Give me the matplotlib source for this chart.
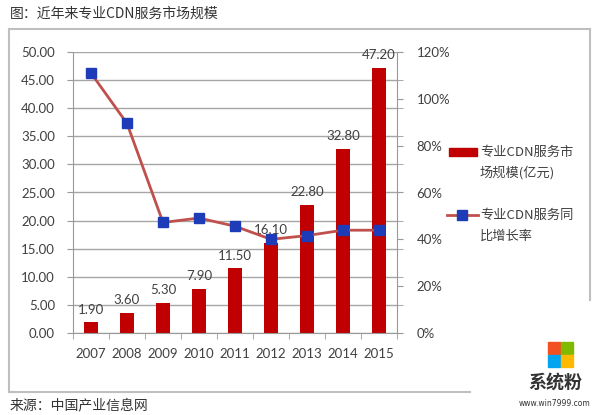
import matplotlib.pyplot as plt
from matplotlib.lines import Line2D
from matplotlib.patches import Rectangle
import numpy as np

plt.rcParams['font.family'] = ['Lato', 'Noto Sans CJK SC', 'DejaVu Sans']

years = ['2007', '2008', '2009', '2010', '2011', '2012', '2013', '2014', '2015']
market = [1.90, 3.60, 5.30, 7.90, 11.50, 16.10, 22.80, 32.80, 47.20]
growth = [111.0, 89.5, 47.2, 49.1, 45.6, 40.0, 41.6, 43.9, 43.9]
bar_label = ['专业CDN服务市', '场规模(亿元)']
line_label = ['专业CDN服务同', '比增长率']
title = '图：近年来专业CDN服务市场规模'
source = '来源：中国产业信息网'

cjk = ['Noto Sans CJK SC', 'DejaVu Sans']
txt = '#404040'
bar_c = '#C00000'
line_c = '#C0504D'
mark_c = '#1F3CB8'

fig = plt.figure(figsize=(6, 4.15), dpi=100)
ax = fig.add_axes([73/600, 1-333/415, 324/600, 281/415])
x = np.arange(len(years))

ax.bar(x, market, width=0.37, color=bar_c, zorder=2)
for xi, v in zip(x, market):
    ax.text(xi, v + 1.2, '%.2f' % v, ha='center', va='bottom', fontsize=9.5, color=txt)

ax.set_xlim(-0.5, len(years) - 0.5)
ax.set_ylim(0, 50)
ax.set_yticks(np.arange(0, 51, 5))
ax.set_yticklabels(['%.2f' % t for t in np.arange(0, 51, 5)])
ax.set_xticks(x)
ax.set_xticklabels(years)
ax.set_xticks(np.arange(-0.5, len(years), 1), minor=True)
ax.tick_params(axis='x', which='major', length=0, labelsize=9.5, labelcolor=txt, pad=11)
ax.tick_params(axis='x', which='minor', length=4, color='#999999')
ax.tick_params(axis='y', length=4, color='#999999', labelsize=9.5, labelcolor=txt, pad=9)
ax.grid(axis='y', color='#A6A6A6', linewidth=1, zorder=0)
for s in ['top', 'right']:
    ax.spines[s].set_visible(False)
for s in ['left', 'bottom']:
    ax.spines[s].set_color('#999999')

ax2 = ax.twinx()
ax2.plot(x, growth, color=line_c, linewidth=2, marker='s', markersize=7,
         markerfacecolor=mark_c, markeredgecolor=mark_c, zorder=3)
ax2.set_ylim(0, 120)
ax2.set_yticks(np.arange(0, 121, 20))
ax2.set_yticklabels(['%d%%' % t for t in np.arange(0, 121, 20)])
ax2.set_yticks(np.arange(0, 121, 12), minor=True)
ax2.tick_params(axis='y', which='major', length=4, color='#999999', labelsize=9.5, labelcolor=txt, pad=10)
ax2.tick_params(axis='y', which='minor', length=4, color='#999999')
for s in ['top', 'left', 'bottom']:
    ax2.spines[s].set_visible(False)
ax2.spines['right'].set_color('#999999')

# legend, drawn by hand so the key sits on the first text line
def fy(py):
    return 1 - py / 415

fig.add_artist(Rectangle((449/600, fy(156)), 28/600, 8/415, color=bar_c))
fig.add_artist(Line2D([447/600, 478/600], [fy(215), fy(215)], color=line_c, lw=2))
fig.add_artist(Line2D([462/600], [fy(215)], marker='s', markersize=7,
                      markerfacecolor=mark_c, markeredgecolor=mark_c))
for lines, py in [(bar_label, 152), (line_label, 215)]:
    for i, s in enumerate(lines):
        fig.text(480/600, fy(py + 21 * i), s, fontsize=9.5, family=cjk,
                 color=txt, va='center')

# outer frame
fc = '#BFBFBF'
fig.add_artist(Line2D([9/600, 590/600], [fy(29), fy(29)], color=fc, lw=1.5))
fig.add_artist(Line2D([590/600, 590/600], [fy(29), fy(300)], color=fc, lw=1.5))
fig.add_artist(Line2D([9/600, 9/600], [fy(29), fy(392)], color=fc, lw=1.5))
fig.add_artist(Line2D([9/600, 470/600], [fy(392), fy(392)], color=fc, lw=1.5))

fig.text(10/600, fy(14), title, fontsize=10, family=cjk, color='#333333', va='center')
fig.text(10/600, fy(405), source, fontsize=10, family=cjk, color='#333333', va='center')

# watermark
sq = [('#F25022', 548, 342), ('#7FBA00', 561, 342), ('#00A4EF', 548, 355), ('#FFB900', 561, 355)]
for c, px, py in sq:
    fig.add_artist(Rectangle((px/600, fy(py + 12)), 12/600, 12/415, color=c))
fig.text(555/600, fy(382), '系统粉', fontsize=13, family=cjk, color='#333333',
         ha='center', va='center', fontweight='bold')
fig.text(555/600, fy(403), 'www.win7999.com', fontsize=5.5, family=['DejaVu Sans'],
         color='#333333', ha='center', va='center')

fig.savefig('out.png', dpi=100)
